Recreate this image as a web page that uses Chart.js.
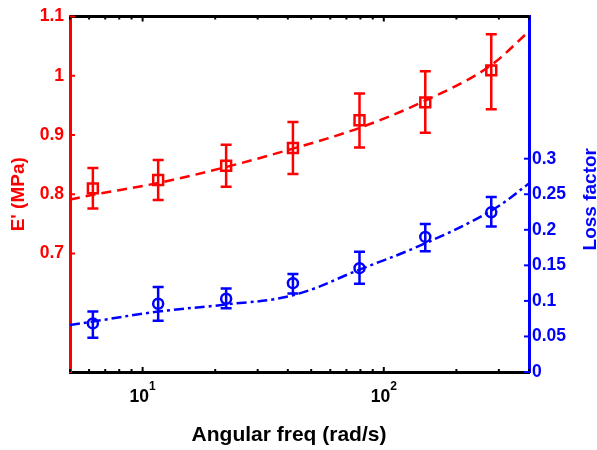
<!DOCTYPE html>
<html><head><meta charset="utf-8">
<script src="https://cdn.jsdelivr.net/npm/chart.js@4/dist/chart.umd.min.js"></script>
<style>html,body{margin:0;padding:0;background:#fff;}#wrap{width:597px;height:450px;position:relative}</style>
</head><body><div id="wrap"><canvas id="c" width="597" height="450"></canvas></div>
<script>
// ---- data ----
const freq = [6.22, 11.6, 22.2, 42.0, 79.3, 148.6, 279];
const storageModulus = [0.810, 0.824, 0.848, 0.878, 0.925, 0.955, 1.009];
const storageLow  = [0.776, 0.7905, 0.8126, 0.834, 0.8787, 0.9037, 0.9436];
const storageHigh = [0.8443, 0.858, 0.8837, 0.922, 0.970, 1.0078, 1.070];
const lossFactor = [0.0683, 0.096, 0.103, 0.125, 0.146, 0.190, 0.2246];
const lossLow  = [0.048, 0.072, 0.0897, 0.1105, 0.124, 0.170, 0.2047];
const lossHigh = [0.085, 0.1196, 0.1174, 0.138, 0.169, 0.2083, 0.2463];
const storageFitFreq = [5, 6.22, 11.6, 22.2, 42, 79.3, 148.6, 279, 400];
const storageFit     = [0.791, 0.799, 0.819, 0.846, 0.877, 0.912, 0.958, 1.018, 1.075];
const lossFitFreq = [5, 6.22, 11.6, 22.2, 42, 79.3, 148.6, 279, 400];
const lossFit     = [0.066, 0.071, 0.085, 0.095, 0.108, 0.144, 0.181, 0.227, 0.265];
const xTickValues = [10, 100];
const xTickExponents = ['1', '2'];
const xMinorTicks = [5, 6, 7, 8, 9, 20, 30, 40, 50, 60, 70, 80, 90, 200, 300, 400];
const leftTicks = [0.7, 0.8, 0.9, 1.0, 1.1];
const leftTickLabels = ['0.7', '0.8', '0.9', '1', '1.1'];
const rightTicks = [0, 0.05, 0.1, 0.15, 0.2, 0.25, 0.3];
const rightTickLabels = ['0', '0.05', '0.1', '0.15', '0.2', '0.25', '0.3'];
const xTitle = 'Angular freq (rad/s)';
const leftTitle = "E' (MPa)";
const rightTitle = 'Loss factor';

const RED = '#ff0000', BLUE = '#0000ff', BLACK = '#000000';
const FONT = '"Liberation Sans", Arial, sans-serif';
const pts = (xs, ys) => xs.map((x, i) => ({x: x, y: ys[i]}));

const decorPlugin = {
  id: 'decor',
  afterDatasetsDraw(chart) {
    const ctx = chart.ctx, xs = chart.scales.x;
    const bars = [
      {scale: chart.scales.y, lo: storageLow, hi: storageHigh, color: RED},
      {scale: chart.scales.y1, lo: lossLow, hi: lossHigh, color: BLUE}
    ];
    ctx.save();
    ctx.lineWidth = 2.5;
    bars.forEach(b => {
      ctx.strokeStyle = b.color;
      freq.forEach((f, i) => {
        const px = xs.getPixelForValue(f);
        const y1 = b.scale.getPixelForValue(b.lo[i]);
        const y2 = b.scale.getPixelForValue(b.hi[i]);
        ctx.beginPath();
        ctx.moveTo(px, y1); ctx.lineTo(px, y2);
        ctx.moveTo(px - 5.5, y1); ctx.lineTo(px + 5.5, y1);
        ctx.moveTo(px - 5.5, y2); ctx.lineTo(px + 5.5, y2);
        ctx.stroke();
      });
    });
    ctx.restore();
  },
  afterDraw(chart) {
    const ctx = chart.ctx, a = chart.chartArea;
    const xs = chart.scales.x, yl = chart.scales.y, yr = chart.scales.y1;
    ctx.save();
    // top black frame line
    ctx.strokeStyle = BLACK; ctx.lineWidth = 3;
    ctx.beginPath(); ctx.moveTo(a.left, a.top); ctx.lineTo(a.right, a.top); ctx.stroke();
    // x ticks (inward, bottom and top)
    ctx.lineWidth = 2;
    const drawX = (v, len) => {
      const px = xs.getPixelForValue(v);
      ctx.beginPath();
      ctx.moveTo(px, a.bottom); ctx.lineTo(px, a.bottom - len);
      ctx.moveTo(px, a.top); ctx.lineTo(px, a.top + len);
      ctx.stroke();
    };
    xMinorTicks.forEach(v => drawX(v, 3));
    xTickValues.forEach(v => drawX(v, 5));
    // left ticks inward
    ctx.strokeStyle = RED;
    leftTicks.forEach(v => {
      const py = yl.getPixelForValue(v);
      ctx.beginPath(); ctx.moveTo(a.left, py); ctx.lineTo(a.left + 5, py); ctx.stroke();
    });
    ctx.strokeStyle = BLUE;
    rightTicks.forEach(v => {
      const py = yr.getPixelForValue(v);
      ctx.beginPath(); ctx.moveTo(a.right, py); ctx.lineTo(a.right - 5, py); ctx.stroke();
    });
    // x tick labels 10^n
    ctx.fillStyle = BLACK;
    ctx.textBaseline = 'alphabetic'; ctx.textAlign = 'left';
    xTickValues.forEach((v, i) => {
      const px = xs.getPixelForValue(v);
      ctx.font = 'bold 17.5px ' + FONT;
      const w1 = ctx.measureText('10').width;
      ctx.font = 'bold 12px ' + FONT;
      const w2 = ctx.measureText(xTickExponents[i]).width;
      const start = px - (w1 + w2) / 2;
      ctx.font = 'bold 17.5px ' + FONT;
      ctx.fillText('10', start, a.bottom + 30);
      ctx.font = 'bold 12px ' + FONT;
      ctx.fillText(xTickExponents[i], start + w1, a.bottom + 18);
    });
    // x title
    ctx.font = 'bold 21px ' + FONT;
    ctx.textAlign = 'center';
    ctx.fillText(xTitle, (a.left + a.right) / 2 - 10.5, a.bottom + 69);
    // left title
    ctx.fillStyle = RED;
    ctx.font = 'bold 19px ' + FONT;
    ctx.save();
    ctx.translate(23.5, (a.top + a.bottom) / 2);
    ctx.rotate(-Math.PI / 2);
    ctx.fillText(leftTitle, 0, 0);
    ctx.restore();
    // right title
    ctx.fillStyle = BLUE;
    ctx.save();
    ctx.translate(596, (a.top + a.bottom) / 2 + 5);
    ctx.rotate(-Math.PI / 2);
    ctx.fillText(rightTitle, 0, 0);
    ctx.restore();
    ctx.restore();
  }
};

new Chart(document.getElementById('c'), {
  data: {
    datasets: [
      {type: 'line', data: pts(storageFitFreq, storageFit), yAxisID: 'y', borderColor: RED, borderWidth: 2.5,
       borderDash: [10, 6], pointRadius: 0, cubicInterpolationMode: 'monotone', fill: false},
      {type: 'line', data: pts(lossFitFreq, lossFit), yAxisID: 'y1', borderColor: BLUE, borderWidth: 2.5,
       borderDash: [10, 4, 3, 4], pointRadius: 0, tension: 0.4, fill: false},
      {type: 'line', data: pts(freq, storageModulus), yAxisID: 'y', showLine: false, pointStyle: 'rect',
       pointRadius: 7, pointBorderWidth: 2.5, pointBorderColor: RED, pointBackgroundColor: 'rgba(0,0,0,0)'},
      {type: 'line', data: pts(freq, lossFactor), yAxisID: 'y1', showLine: false, pointStyle: 'circle',
       pointRadius: 5, pointBorderWidth: 2.5, pointBorderColor: BLUE, pointBackgroundColor: 'rgba(0,0,0,0)'}
    ]
  },
  options: {
    responsive: false, animation: false, devicePixelRatio: 1,
    layout: {padding: {top: 11, left: 0, right: 0, bottom: 0}},
    plugins: {legend: {display: false}, tooltip: {enabled: false}},
    scales: {
      x: {
        type: 'logarithmic', position: 'bottom', min: 5, max: 400,
        grid: {display: false, drawTicks: false},
        border: {display: true, color: BLACK, width: 3},
        ticks: {display: false},
        afterFit: s => { s.height = 78; }
      },
      y: {
        type: 'linear', position: 'left', min: 0.5, max: 1.1,
        grid: {display: false, drawTicks: false},
        border: {display: true, color: RED, width: 3},
        afterBuildTicks: s => { s.ticks = leftTicks.map(v => ({value: v})); },
        ticks: {color: RED, padding: 6, font: {family: FONT, size: 17.5, weight: 'bold'},
                callback: (v, i) => leftTickLabels[i]},
        afterFit: s => { s.width = 70; }
      },
      y1: {
        type: 'linear', position: 'right', min: 0, max: 0.5,
        grid: {display: false, drawTicks: false},
        border: {display: true, color: BLUE, width: 3},
        afterBuildTicks: s => { s.ticks = rightTicks.map(v => ({value: v})); },
        ticks: {color: BLUE, padding: 3, font: {family: FONT, size: 17.5, weight: 'bold'},
                callback: (v, i) => rightTickLabels[i]},
        afterFit: s => { s.width = 68; }
      }
    }
  },
  plugins: [decorPlugin]
});
</script>
</body></html>
